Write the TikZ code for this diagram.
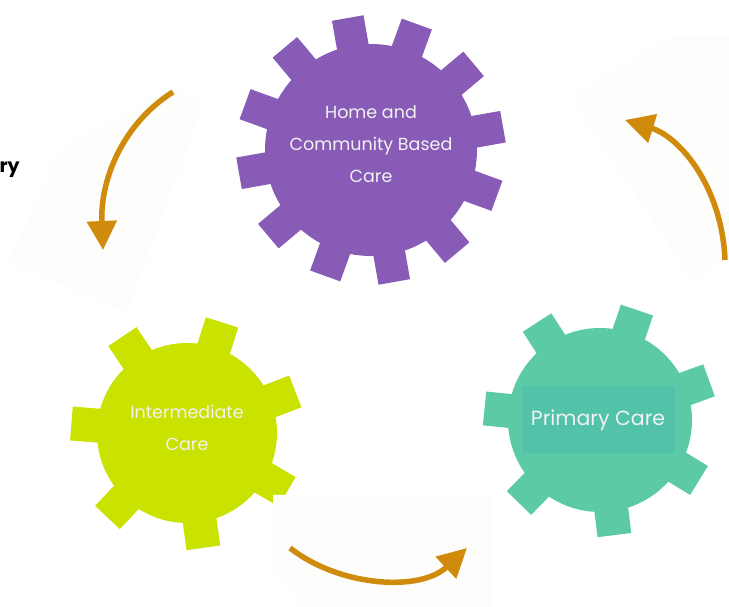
\documentclass[tikz,border=0pt]{standalone}
\usepackage{fontspec}
\setmainfont{Poppins}
\usetikzlibrary{arrows.meta}
\definecolor{homecol}{HTML}{875BB6}
\definecolor{intercol}{HTML}{C9E200}
\definecolor{primcol}{HTML}{5CC9A7}
\definecolor{primbox}{HTML}{52C3A8}
\definecolor{arrowcol}{HTML}{D08A0C}
\definecolor{faintcol}{HTML}{FDFDFC}
\tikzset{
  gtext/.style={align=center, text=white!90!gray, font=\fontsize{17.5}{32}\selectfont},
  faintbox/.style={fill=faintcol},
  careflow/.style={draw=arrowcol, line width=5.5pt, -{Triangle[length=29pt,width=29pt]}}
}
\begin{document}
\begin{tikzpicture}[x=1pt,y=1pt]
	\useasboundingbox (0,0) rectangle (729,607);
	% gear centres
	\coordinate (hc) at (371,457);
	\coordinate (ic) at (187,174);
	\coordinate (pc) at (600,187);
	% home and community based care
	\fill[homecol] (hc) circle (106);
	\foreach \a in {10,40,...,340}
		\fill[homecol,shift={(hc)},rotate=\a] (96,-16) rectangle (134,16);
	% intermediate care
	\fill[intercol] (ic) circle (90);
	\foreach \k in {0,...,6}
		\fill[intercol,shift={(ic)},rotate={21+51.43*\k}] (80,-17) rectangle (116,17);
	% primary care
	\fill[primcol] (pc) circle (92);
	\foreach \k in {0,...,6}
		\fill[primcol,shift={(pc)},rotate={20+51.43*\k}] (82,-17) rectangle (116,17);
	\fill[primbox] (522,154) rectangle (675,221);
	% labels
	\node[gtext] (home) at (371,463) {Home and\\Community Based\\Care};
	\node[gtext] (inter) at (187,179) {Intermediate\\Care};
	\node[gtext,font=\fontsize{20.5}{24}\selectfont] (prim) at (598,187) {Primary Care};
	\node[anchor=west,font=\fontsize{19}{22}\selectfont\bfseries] (cut) at (-4,437) {ry};
	% faint boxes behind the arrows
	\fill[faintbox] (173,520) -- (203,502) -- (127,294) -- (8,345) -- (60,457) -- cycle;
	\fill[faintbox] (572,510) -- (670,570) -- (729,570) -- (729,352) -- (693,324) -- cycle;
	\fill[faintbox] (273,112) -- (493,112) -- (493,0) -- (303,0) -- (273,40) -- cycle;
	% arrows
	\coordinate (tlA) at (173,515);
	\coordinate (tlB) at (103,357);
	\coordinate (trA) at (725,347);
	\coordinate (trB) at (625,487);
	\coordinate (bA) at (290,59);
	\coordinate (bB) at (467,59);
	\draw[careflow] (tlA) .. controls (125,485) and (100,430) .. (tlB);
	\draw[careflow] (trA) .. controls (722,420) and (680,470) .. (trB);
	\draw[careflow] (bA) .. controls (340,20) and (420,15) .. (bB);
\end{tikzpicture}
\end{document}
